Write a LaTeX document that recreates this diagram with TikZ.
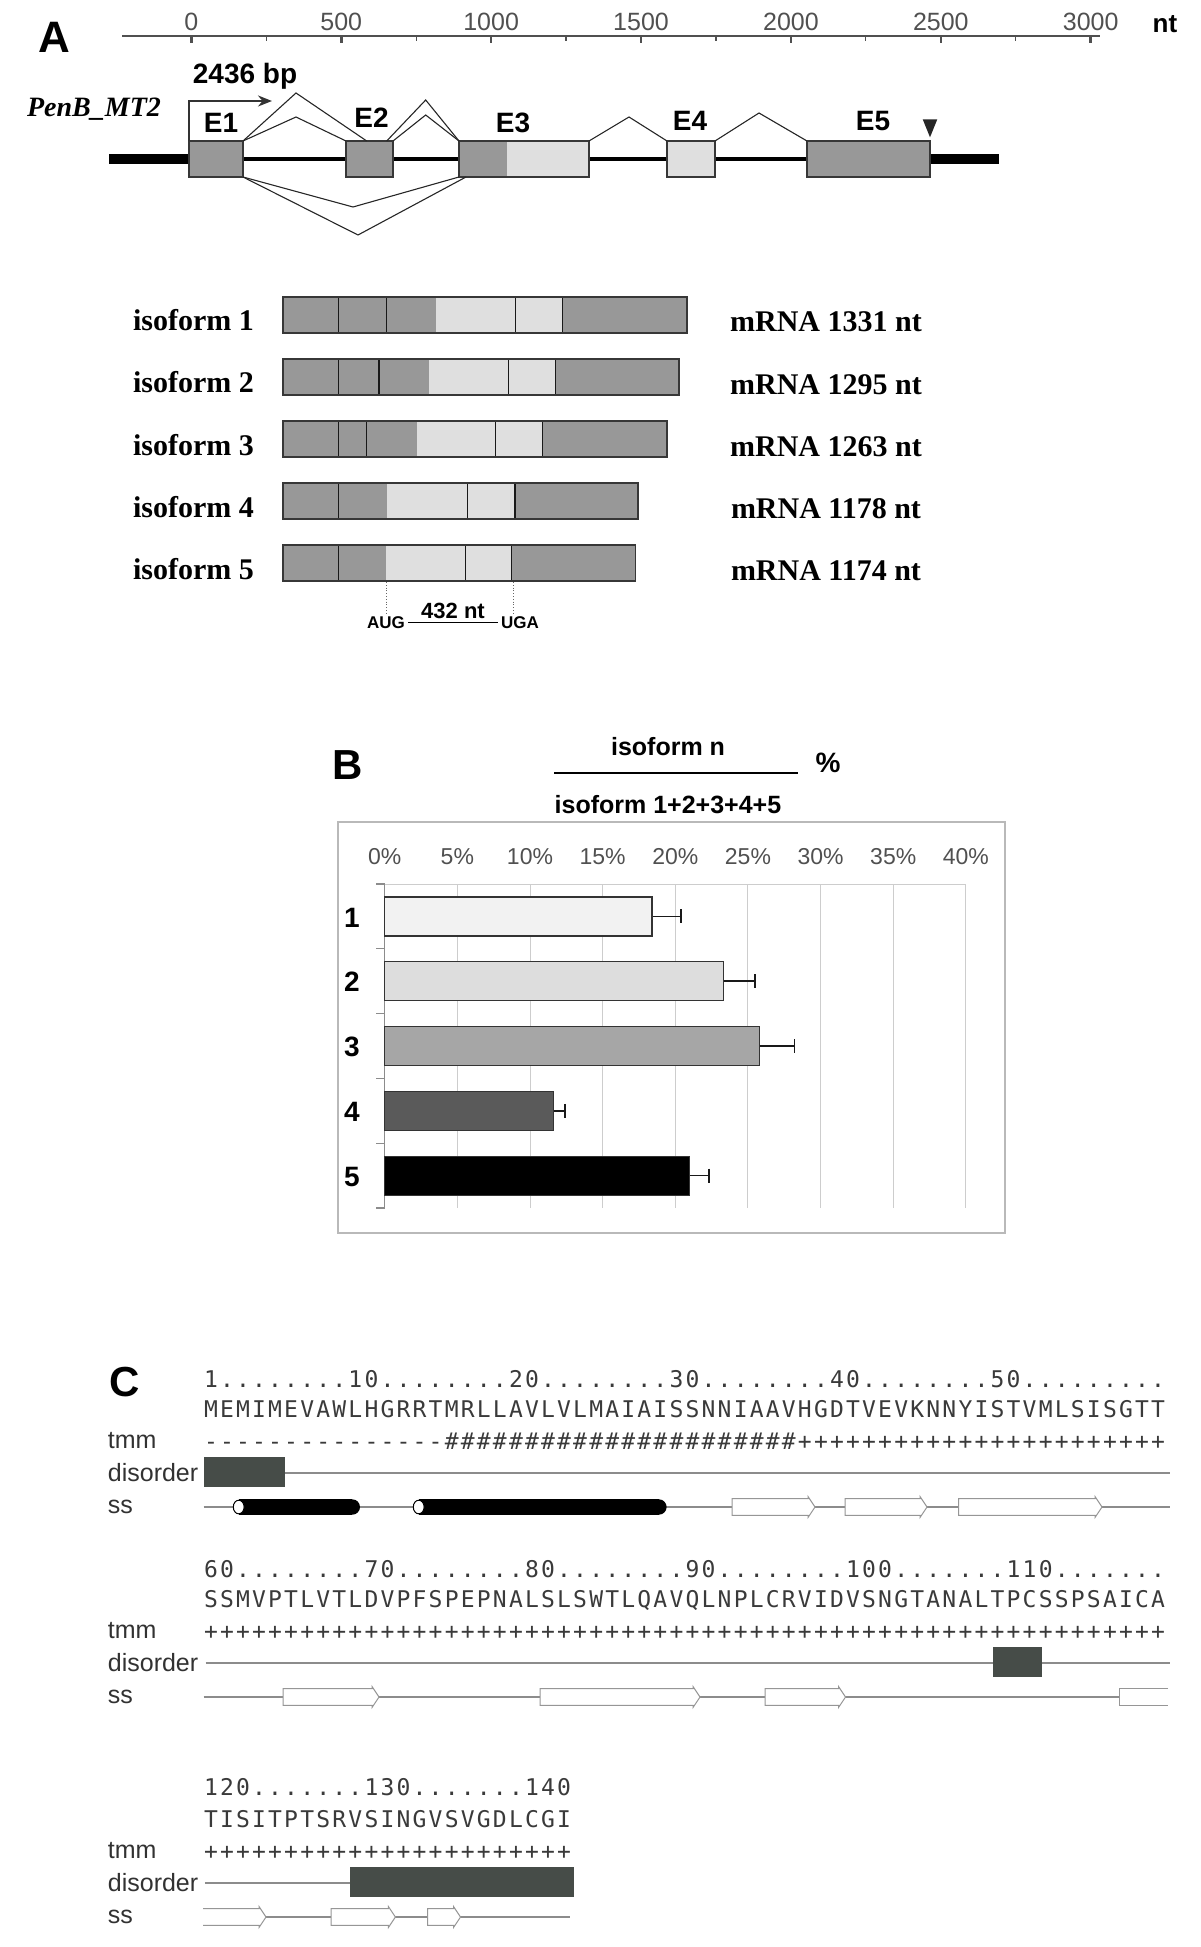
\documentclass[tikz,border=0pt]{standalone}
\usepackage{fontspec}
\setmainfont{Liberation Sans}
\newfontfamily\lserif{Liberation Serif}
\newfontfamily\dmono[LetterSpace=9.6]{DejaVu Sans Mono}
\usepackage{tikz}
\usetikzlibrary{arrows.meta,calc}
\newcommand{\figpanel}{\bfseries\fontsize{22}{24}\selectfont}
\newcommand{\figexon}{\bfseries\fontsize{14}{16}\selectfont}
\newcommand{\figaxis}{\fontsize{12.5}{14}\selectfont}
\newcommand{\figiso}{\lserif\bfseries\fontsize{15}{17}\selectfont}
\newcommand{\figgene}{\lserif\bfseries\itshape\fontsize{14}{16}\selectfont}
\newcommand{\figcodon}{\bfseries\fontsize{8.5}{10}\selectfont}
\newcommand{\figfrac}{\bfseries\fontsize{12.5}{14}\selectfont}
\newcommand{\figtrack}{\fontsize{12.5}{14}\selectfont}
\newcommand{\figseq}{\dmono\fontsize{11.5}{13}\selectfont}
\newcommand{\rpt}[2]{\foreach \k in {1,...,#1}{#2}}
\definecolor{exDark}{RGB}{152,152,152}
\definecolor{exLight}{RGB}{223,223,223}
\definecolor{exEdge}{RGB}{55,55,55}
\definecolor{axInk}{RGB}{80,80,80}
\definecolor{gridGray}{RGB}{205,205,205}
\definecolor{frameGray}{RGB}{185,185,185}
\definecolor{barOne}{RGB}{242,242,242}
\definecolor{barTwo}{RGB}{221,221,221}
\definecolor{barThree}{RGB}{166,166,166}
\definecolor{barFour}{RGB}{90,90,90}
\definecolor{seqInk}{RGB}{58,58,58}
\definecolor{trkInk}{RGB}{50,50,50}
\definecolor{trkLine}{RGB}{140,140,140}
\definecolor{disFill}{RGB}{70,76,72}
\definecolor{strandEdge}{RGB}{150,150,150}
\tikzset{
  gmPanel/.style={font=\figpanel, inner sep=0pt},
  gmAxis/.style={draw=axInk, line width=.75pt},
  gmTick/.style={font=\figaxis, text=axInk, inner sep=0pt},
  gmExon/.style={draw=exEdge, line width=.6pt, fill=exDark, minimum height=18pt,
    inner sep=0pt, outer sep=0pt},
  gmExonLbl/.style={font=\figexon, inner sep=0pt},
  gmSplice/.style={draw=black!85, line width=.55pt, line join=miter},
  gmTss/.style={-{Stealth[length=7pt,width=5.5pt]}, draw=black!80, line width=.9pt},
  gmIsoBar/.style={draw=exEdge, line width=.8pt},
  gmDiv/.style={draw=black!90, line width=.65pt},
  gmIsoLbl/.style={font=\figiso, inner sep=0pt, anchor=base},
  gmCodon/.style={font=\figcodon, inner sep=1.5pt},
  gmDot/.style={draw=black!60, line width=.4pt, densely dotted},
  bcFrame/.style={draw=frameGray, line width=1.2pt},
  bcGrid/.style={draw=gridGray, line width=.5pt},
  bcAxis/.style={draw=black!45, line width=.6pt},
  bcBar/.style={draw=black!80, line width=.6pt},
  bcErr/.style={draw=black!90, line width=.8pt},
  bcTick/.style={font=\fontsize{11.5}{13}\selectfont, text=axInk, inner sep=0pt},
  bcCat/.style={font=\bfseries\fontsize{14}{16}\selectfont, inner sep=0pt},
  scSeq/.style={font=\figseq, text=seqInk, anchor=base west, inner sep=0pt},
  scTrk/.style={font=\figtrack, text=trkInk, anchor=base west, inner sep=0pt},
  scLine/.style={draw=trkLine, line width=.7pt},
  scStrand/.style={draw=strandEdge, fill=white, line width=.5pt}
}
\newcommand{\sshelix}[3]{%
  \fill[black] (#1,#3-7.7) rectangle (#2-7.7,#3+7.7);
  \fill[black] (#2-7.7,#3) circle (3.85pt);
  \filldraw[fill=white, draw=black, line width=.5pt] (#1,#3) ellipse [x radius=2.7pt, y radius=3.4pt];}
\newcommand{\ssstrand}[3]{%
  \filldraw[scStrand] (#1,#3-8.3) -- (#2-7,#3-8.3) -- (#2-7,#3-10.5) -- (#2,#3)
    -- (#2-7,#3+10.5) -- (#2-7,#3+8.3) -- (#1,#3+8.3) -- cycle;}

\begin{document}
\begin{tikzpicture}[x=.5pt,y=-.5pt]
\useasboundingbox (0,0) rectangle (1200,1947);

% A: gene model
\node[gmPanel] (labA) at (54,37) {A};
\draw[gmAxis] (122,36) -- (1100,36);
\foreach \n in {250,750,...,2750}
  \draw[gmAxis, line width=.6pt] ({191.3+0.2998*\n},36) -- ++(0,5);
\foreach \n in {0,500,...,3000}{
  \draw[gmAxis, line width=1.3pt] ({191.3+0.2998*\n},36) -- ++(0,7);
  \node[gmTick] (tk\n) at ({191.3+0.2998*\n},22) {\n};
}
\node[gmExonLbl, font=\bfseries\fontsize{13}{15}\selectfont] (ntA) at (1165,24) {nt};

\draw[line width=5pt] (109,159) -- (190,159);
\draw[line width=5pt] (930,159) -- (999,159);
\draw[line width=2pt] (190,159) -- (930,159);

\node[gmExon, minimum width=27pt] (e1) at (216,159) {};
\node[gmExon, minimum width=23.5pt] (e2) at (369.5,159) {};
\node[gmExon, minimum width=65pt, fill=exLight, path picture={
  \fill[exDark] (path picture bounding box.north west) rectangle
    ([xshift=24pt]path picture bounding box.south west);}] (e3) at (524,159) {};
\node[gmExon, minimum width=24pt, fill=exLight] (e4) at (691,159) {};
\node[gmExon, minimum width=61.5pt] (e5) at (868.5,159) {};

\node[gmExonLbl] (l1) at (221,123) {E1};
\node[gmExonLbl] (l2) at (371.5,118) {E2};
\node[gmExonLbl] (l3) at (513,123) {E3};
\node[gmExonLbl] (l4) at (690,121) {E4};
\node[gmExonLbl] (l5) at (873,121) {E5};
\fill[black!85] (922.7,119.3) -- (937.3,119.3) -- (930,137.3) -- cycle;

\coordinate (tss) at (272,101);
\draw[gmTss] (e1.north west) |- (tss);
\node[gmExonLbl, font=\bfseries\fontsize{14}{16}\selectfont] (bp) at (245,76) {2436 bp};
\node[font=\figgene, inner sep=0pt] (gname) at (94,109) {PenB\_MT2};

\coordinate (e2in) at (366.7,141);
\coordinate (e2out) at (386.7,141);
\coordinate (e3in) at (466,177);
\draw[gmSplice] (e1.north east) -- (296,93) -- (e2in);
\draw[gmSplice] (e1.north east) -- (296,117) -- (e2.north west);
\draw[gmSplice] (e2out) -- (425.7,100) -- (e3.north west);
\draw[gmSplice] (e2.north east) -- (425.7,115) -- (e3.north west);
\draw[gmSplice] (e3.north east) -- (629,117) -- (e4.north west);
\draw[gmSplice] (e4.north east) -- (759,113) -- (e5.north west);
\draw[gmSplice] (e1.south east) -- (353,207) -- (e3.south west);
\draw[gmSplice] (e1.south east) -- (358,235) -- (e3in);

% isoforms
\foreach \i/\r/\la/\lb/\dv/\nt [count=\k from 0] in {
  1/687.1/436.1/562.4/{338.5,386.2,515.8}/1331,
  2/678.9/428.9/555.2/{338.5,379.0,508.6}/1295,
  3/667.0/417.0/542.8/{338.5,366.5,495.6}/1263,
  4/638.2/387.0/515.0/{338.5,467.4}/1178,
  5/635.5/385.5/511.8/{338.5,465.2}/1174}{
  \pgfmathsetmacro{\yt}{297+62*\k}
  \fill[exDark] (283,\yt) rectangle (\r,\yt+36);
  \fill[exLight] (\la,\yt) rectangle (\lb,\yt+36);
  \foreach \d in \dv \draw[gmDiv] (\d,\yt) -- (\d,\yt+36);
  \draw[gmDiv] (\lb,\yt) -- (\lb,\yt+36);
  \draw[gmIsoBar] (283,\yt) rectangle (\r,\yt+36);
  \node[gmIsoLbl] (iso\i) at (193.5,\yt+34) {isoform \i};
  \node[gmIsoLbl] (mrna\i) at (826,\yt+35) {mRNA \nt\ nt};
}
\draw[gmDot] (386,582) -- (386,613);
\draw[gmDot] (513.5,582) -- (513.5,613);
\node[gmCodon] (aug) at (386,622.5) {AUG};
\node[gmCodon] (uga) at (520,622.5) {UGA};
\draw[line width=.75pt] (aug.east) -- node[above, inner sep=1.5pt,
  font=\bfseries\fontsize{11}{13}\selectfont] (orf) {432 nt} (uga.west);

% B: relative abundance
\node[gmPanel, font=\bfseries\fontsize{21}{24}\selectfont] (labB) at (348,765) {B};
\node[font=\figfrac, inner sep=0pt] (num) at (668,747) {isoform n};
\node[font=\figfrac, inner sep=0pt] (den) at (668,805) {isoform 1+2+3+4+5};
\draw[line width=.75pt] (554,773) -- (798,773);
\node[font=\bfseries\fontsize{14}{16}\selectfont, inner sep=0pt] (pct) at (828,763) {\%};
\draw[bcFrame] (338,822) rectangle (1005,1233);
\foreach \p in {5,10,...,40}
  \draw[bcGrid] ({384.7+14.53*\p},884) -- ++(0,324);
\draw[bcGrid] (376,884) -- (966,884);
\draw[bcAxis] (384.7,884) -- (384.7,1208);
\foreach \t in {0,...,5}
  \draw[bcAxis] (376,{884+64.8*\t}) -- (384.7,{884+64.8*\t});
\foreach \p in {0,5,...,40}
  \node[bcTick] (pt\p) at ({384.7+14.53*\p},857) {\p\%};
\foreach \i/\v/\e/\c in {1/18.4/20.4/barOne, 2/23.3/25.5/barTwo,
  3/25.8/28.2/barThree, 4/11.6/12.4/barFour, 5/21.0/22.3/black}{
  \pgfmathsetmacro{\yc}{916.4+64.8*(\i-1)}
  \draw[bcErr] ({384.7+14.53*\v},\yc) -- ({384.7+14.53*\e},\yc);
  \draw[bcErr] ({384.7+14.53*\e},\yc-7) -- ++(0,14);
  \draw[bcBar, fill=\c] (384.7,\yc-19.5) rectangle ({384.7+14.53*\v},\yc+19.5);
  \node[bcCat] (cat\i) at (352,\yc+1) {\i};
}

% C: sequence tracks
\node[gmPanel, font=\bfseries\fontsize{21}{24}\selectfont] (labC) at (125,1382) {C};
\node[scSeq] (r1) at (203.6,1387) {1........10........20........30........40........50.........};
\node[scSeq] (s1) at (203.6,1417) {MEMIMEVAWLHGRRTMRLLAVLVLMAIAISSNNIAAVHGDTVEVKNNYISTVMLSISGTT};
\node[scSeq] (t1) at (203.6,1449) {---------------\rpt{22}{\#}\rpt{23}{+}};
\node[scTrk] (tmm1) at (107.5,1448) {tmm};
\node[scTrk] (dis1) at (107.5,1481) {disorder};
\node[scTrk] (ss1) at (107.5,1513.5) {ss};
\draw[scLine] (205.7,1473) -- (1170,1473);
\fill[disFill] (204,1457) rectangle (285,1487);
\draw[scLine] (203.6,1507) -- (1170,1507);
\sshelix{238.7}{360}{1507}
\sshelix{418.7}{666.6}{1507}
\ssstrand{732}{815}{1507}
\ssstrand{845}{927}{1507}
\ssstrand{958.5}{1102}{1507}

\node[scSeq] (r2) at (203.6,1577) {60........70........80........90........100.......110.......};
\node[scSeq] (s2) at (203.6,1607) {SSMVPTLVTLDVPFSPEPNALSLSWTLQAVQLNPLCRVIDVSNGTANALTPCSSPSAICA};
\node[scSeq] (t2) at (203.6,1639) {\rpt{60}{+}};
\node[scTrk] (tmm2) at (107.5,1638) {tmm};
\node[scTrk] (dis2) at (107.5,1671) {disorder};
\node[scTrk] (ss2) at (107.5,1703.5) {ss};
\draw[scLine] (205.7,1663) -- (1170,1663);
\fill[disFill] (993,1647) rectangle (1042,1677);
\draw[scLine] (203.6,1697) -- (1168,1697);
\ssstrand{283}{379}{1697}
\ssstrand{540}{700}{1697}
\ssstrand{765}{845.5}{1697}
\filldraw[scStrand] (1168,1688.7) -- (1119,1688.7) -- (1119,1705.3) -- (1168,1705.3);

\node[scSeq] (r3) at (203.6,1795) {120.......130.......140};
\node[scSeq] (s3) at (203.6,1827) {TISITPTSRVSINGVSVGDLCGI};
\node[scSeq] (t3) at (203.6,1859) {\rpt{23}{+}};
\node[scTrk] (tmm3) at (107.5,1858) {tmm};
\node[scTrk] (dis3) at (107.5,1891) {disorder};
\node[scTrk] (ss3) at (107.5,1923.5) {ss};
\draw[scLine] (204.8,1883) -- (350,1883);
\fill[disFill] (350,1867) rectangle (574,1897);
\draw[scLine] (203,1917) -- (570,1917);
\filldraw[scStrand] (203,1908.7) -- (259,1908.7) -- (259,1906.5) -- (266,1917)
  -- (259,1927.5) -- (259,1925.3) -- (203,1925.3);
\ssstrand{331}{395.4}{1917}
\ssstrand{427.5}{460.5}{1917}
\end{tikzpicture}
\end{document}
